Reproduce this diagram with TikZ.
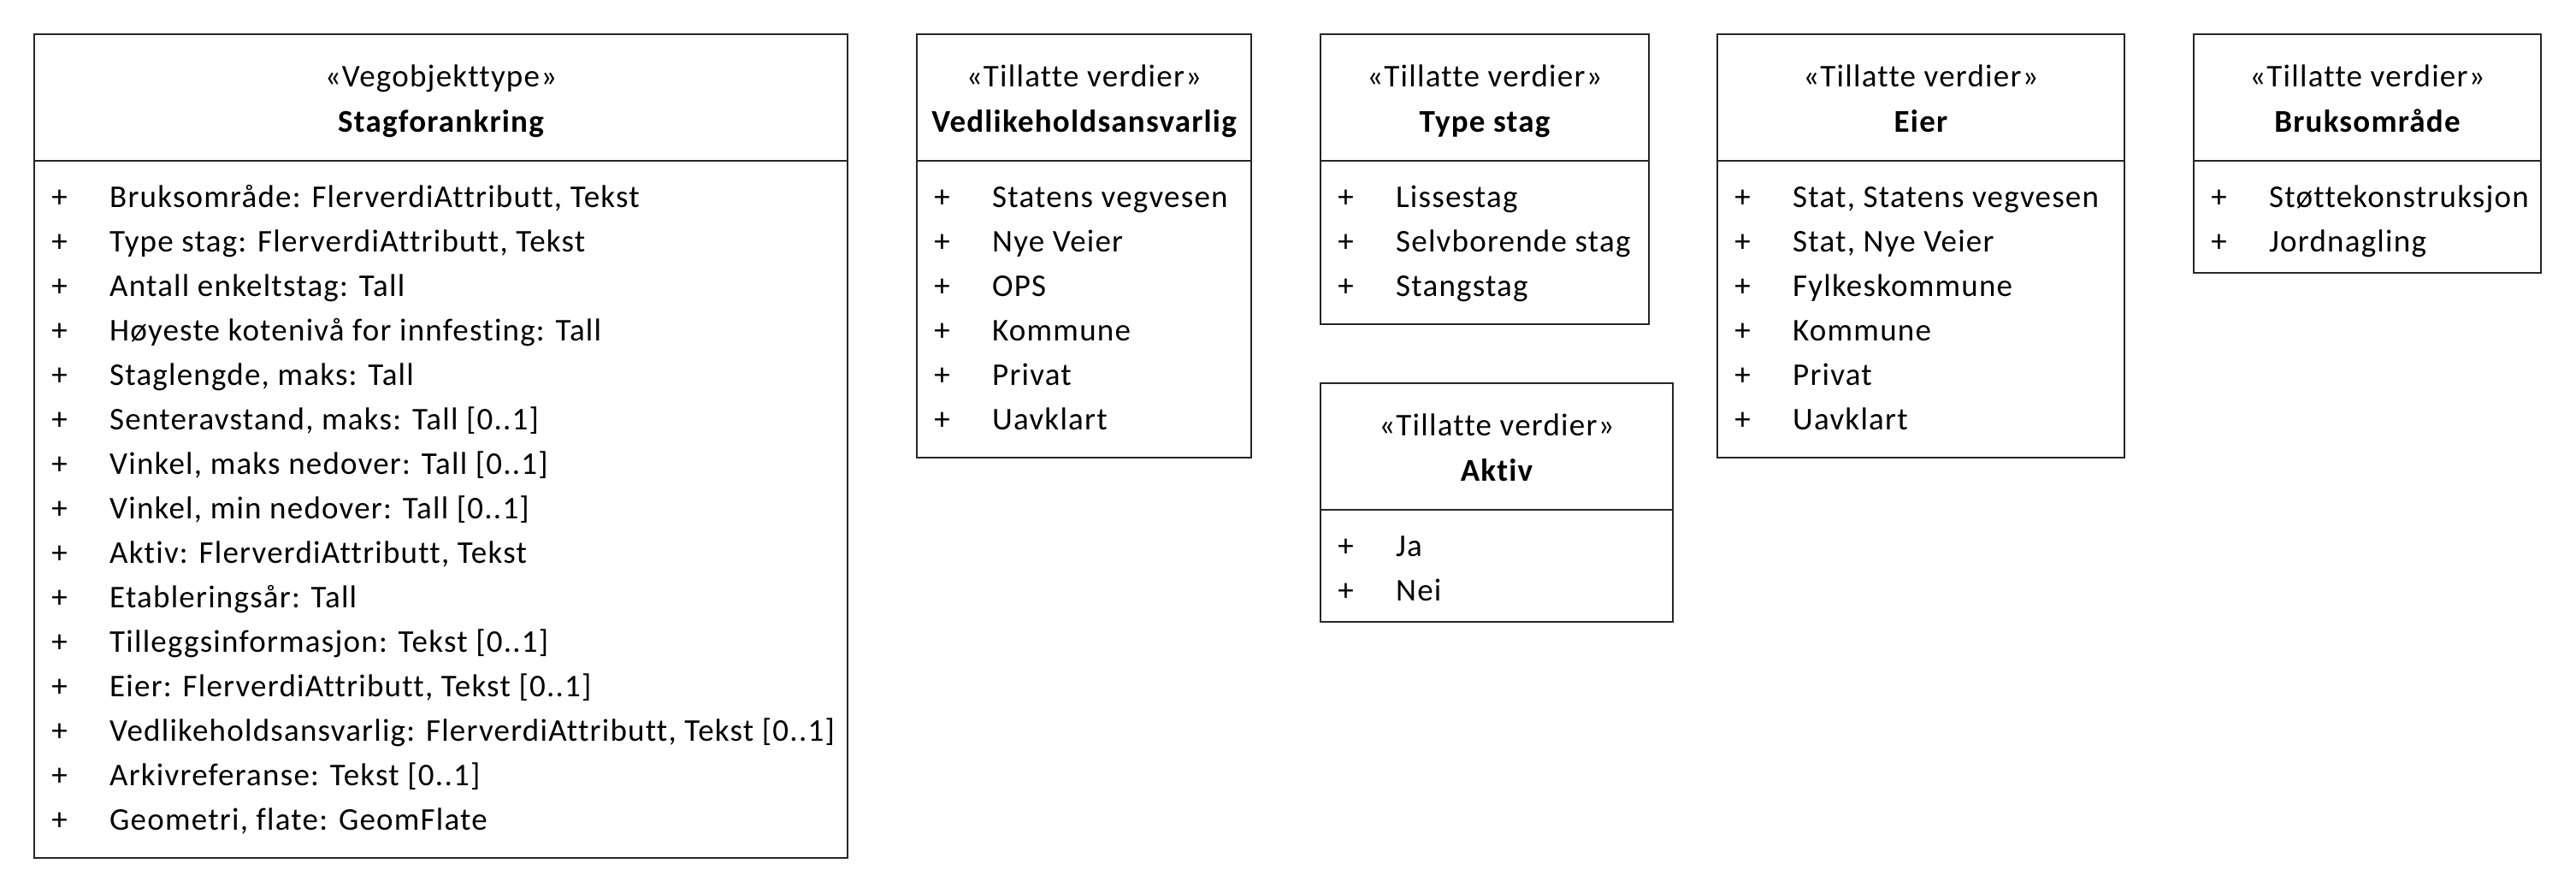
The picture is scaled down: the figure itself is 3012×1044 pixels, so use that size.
\documentclass[tikz,border=0pt]{standalone}
\usepackage{fontspec}
\setmainfont{Carlito}[Ligatures=NoCommon, LetterSpace=3.3]
\tikzset{
  umlframe/.style={draw=black!85, line width=1.6pt, inner sep=0pt, outer sep=0pt, anchor=north west},
  umlsep/.style={draw=black!85, line width=1.6pt},
  umltxt/.style={anchor=base, inner sep=0pt, font=\fontsize{37}{44}\selectfont},
  umlrow/.style={anchor=base west, inner sep=0pt, font=\fontsize{37}{44}\selectfont},
  umltitle/.style={umltxt, font=\fontsize{37}{44}\selectfont\bfseries},
}
% #1 name, #2 left, #3 top, #4 right, #5 bottom, #6 stereotype, #7 title, #8 rows
\newcommand\UMLclassbox[8]{%
  \node[umlframe, minimum width={#4pt-#2pt}, minimum height={#5pt-#3pt}] (#1) at (#2,#3) {};
  \draw[umlsep] ([yshift=-148pt]#1.north west) -- ([yshift=-148pt]#1.north east);
  \node[umltxt] (#1-st) at ([yshift=-61pt]#1.north) {«#6»};
  \node[umltitle] (#1-ti) at ([yshift=-114pt]#1.north) {#7};
  \foreach \r [count=\i from 0] in {#8} {
    \pgfmathsetmacro\yy{202+52*\i}
    \node[umltxt] (#1-p\i) at ([xshift=29.5pt, yshift=-\yy pt]#1.north west) {+};
    \node[umlrow] (#1-r\i) at ([xshift=88pt, yshift=-\yy pt]#1.north west) {\r};
  }
}
\begin{document}
\begin{tikzpicture}[x=1pt, y=-1pt]
  \useasboundingbox (0,0) rectangle (3012,1044);
  \UMLclassbox{stag}{40}{40}{991}{1003}{Vegobjekttype}{Stagforankring}{%
    {Bruksområde: FlerverdiAttributt, Tekst},
    {Type stag: FlerverdiAttributt, Tekst},
    {Antall enkeltstag: Tall},
    {Høyeste kotenivå for innfesting: Tall},
    {Staglengde, maks: Tall},
    {Senteravstand, maks: Tall [0..1]},
    {Vinkel, maks nedover: Tall [0..1]},
    {Vinkel, min nedover: Tall [0..1]},
    {Aktiv: FlerverdiAttributt, Tekst},
    {Etableringsår: Tall},
    {Tilleggsinformasjon: Tekst [0..1]},
    {Eier: FlerverdiAttributt, Tekst [0..1]},
    {Vedlikeholdsansvarlig: FlerverdiAttributt, Tekst [0..1]},
    {Arkivreferanse: Tekst [0..1]},
    {Geometri, flate: GeomFlate}}
  \UMLclassbox{vedl}{1072}{40}{1463}{535}{Tillatte verdier}{Vedlikeholdsansvarlig}{%
    {Statens vegvesen},{Nye Veier},{OPS},{Kommune},{Privat},{Uavklart}}
  \UMLclassbox{type}{1544}{40}{1928}{379}{Tillatte verdier}{Type stag}{%
    {Lissestag},{Selvborende stag},{Stangstag}}
  \UMLclassbox{aktiv}{1544}{448}{1956}{727}{Tillatte verdier}{Aktiv}{%
    {Ja},{Nei}}
  \UMLclassbox{eier}{2008}{40}{2484}{535}{Tillatte verdier}{Eier}{%
    {Stat, Statens vegvesen},{Stat, Nye Veier},{Fylkeskommune},{Kommune},{Privat},{Uavklart}}
  \UMLclassbox{bruk}{2565}{40}{2971}{319}{Tillatte verdier}{Bruksområde}{%
    {Støttekonstruksjon},{Jordnagling}}
\end{tikzpicture}
\end{document}
